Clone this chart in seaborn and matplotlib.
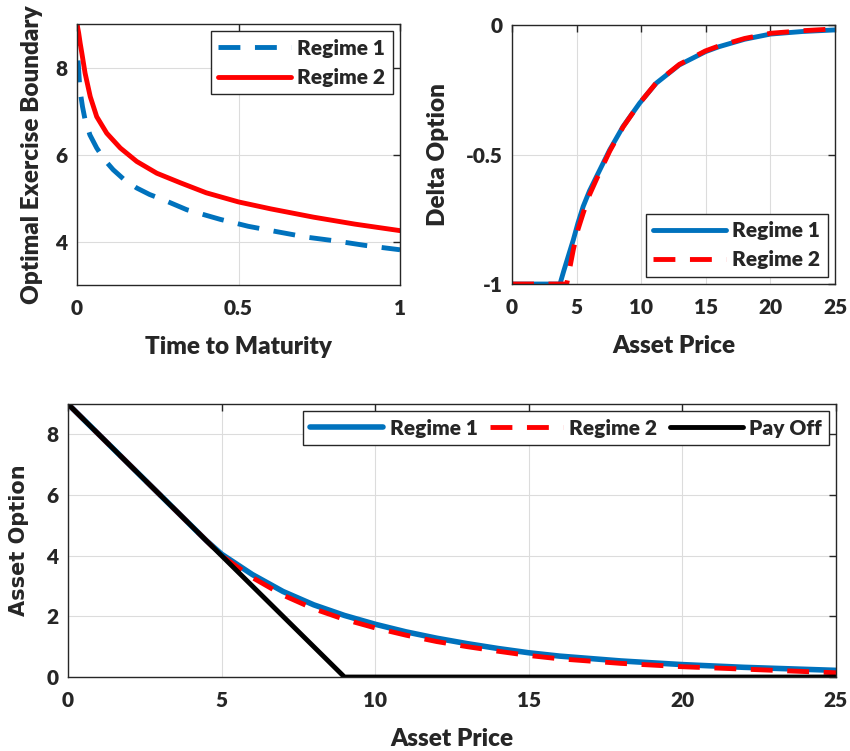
import numpy as np
import pandas as pd
import matplotlib
matplotlib.use("Agg")
import matplotlib.pyplot as plt
import seaborn as sns

# ---- optimal exercise boundary vs time to maturity ----
time_r1 = [0.0, 0.003, 0.009, 0.017, 0.025, 0.04, 0.061, 0.085, 0.112, 0.145, 0.185, 0.225, 0.267,
           0.34, 0.443, 0.53, 0.623, 0.711, 0.804, 0.892, 1.0]
boundary_r1 = [9.0, 8.2, 7.49, 7.1, 6.8, 6.45, 6.15, 5.88, 5.65, 5.43, 5.23, 5.08, 4.96,
               4.73, 4.51, 4.35, 4.22, 4.10, 4.01, 3.91, 3.81]
time_r2 = [0.0, 0.005, 0.01, 0.015, 0.025, 0.041, 0.061, 0.092, 0.134, 0.185, 0.247, 0.32, 0.4,
           0.5, 0.6, 0.732, 0.86, 1.0]
boundary_r2 = [9.0, 8.8, 8.55, 8.33, 7.87, 7.33, 6.87, 6.49, 6.15, 5.84, 5.57, 5.35, 5.12,
               4.91, 4.75, 4.56, 4.40, 4.25]

# ---- delta of the option vs asset price ----
price_d1 = [0, 3.71, 4.0, 4.4, 4.74, 5.1, 5.51, 6.0, 6.54, 7.56, 8.59, 9.87, 11.15, 12.95, 14.97,
            16.0, 18.0, 20.0, 22.5, 25]
delta_r1 = [-1, -1, -0.95, -0.885, -0.83, -0.765, -0.70, -0.64, -0.585, -0.482, -0.392, -0.302,
            -0.225, -0.154, -0.103, -0.084, -0.055, -0.035, -0.025, -0.019]
price_d2 = [0, 4.23, 4.74, 5.1, 5.51, 6.0, 6.54, 7.56, 8.59, 9.87, 11.15, 12.95, 14.97, 16.0, 18.0,
            20.0, 22.5, 25]
delta_r2 = [-1, -1, -0.868, -0.79, -0.726, -0.655, -0.595, -0.487, -0.394, -0.302, -0.224, -0.152,
            -0.100, -0.081, -0.052, -0.032, -0.022, -0.015]

# ---- option value vs asset price ----
price_v = [0, 4.5, 5, 6, 7, 8, 9, 10, 11, 12, 13, 14, 15, 16, 18, 20, 22, 25]
value_r1 = [9, 4.5, 4.05, 3.38, 2.82, 2.38, 2.03, 1.74, 1.49, 1.28, 1.1, 0.94, 0.8, 0.69, 0.53, 0.41, 0.32, 0.22]
value_r2 = [9, 4.5, 4.0, 3.28, 2.7, 2.25, 1.9, 1.62, 1.38, 1.17, 1.0, 0.85, 0.71, 0.6, 0.45, 0.34, 0.26, 0.14]
payoff_price = [0, 9, 25]
payoff_value = [9, 0, 0]

BLUE = '#0072BD'
RED = '#FF0000'
DARK = '#262626'

sns.set_style("white")
plt.rcParams['font.family'] = ['Lato', 'DejaVu Sans']
plt.rcParams['font.weight'] = 'heavy'
plt.rcParams['axes.labelweight'] = 'heavy'
plt.rcParams['axes.edgecolor'] = DARK
plt.rcParams['axes.linewidth'] = 1.0


def fmt_num(v):
    if float(v).is_integer():
        return str(int(v))
    return str(v)


def style_axes(ax, xlim, ylim, xticks, yticks, xlabel, ylabel):
    ax.set_xlim(*xlim)
    ax.set_ylim(*ylim)
    ax.set_xticks(xticks)
    ax.set_yticks(yticks)
    ax.set_xticklabels([fmt_num(v) for v in xticks])
    ax.set_yticklabels([fmt_num(v) for v in yticks])
    ax.grid(True, color='#dcdcdc', linewidth=0.8)
    ax.set_axisbelow(True)
    ax.tick_params(direction='in', top=True, right=True, length=5, width=1,
                   labelsize=15, colors=DARK, labelcolor=DARK)
    ax.tick_params(axis='x', pad=10)
    ax.tick_params(axis='y', pad=7)
    ax.set_xlabel(xlabel, fontsize=17.5, labelpad=13, color=DARK)
    ax.set_ylabel(ylabel, fontsize=17.5, labelpad=12, color=DARK)
    for s in ax.spines.values():
        s.set_visible(True)
        s.set_color(DARK)


def boxed_legend(ax, **kw):
    leg = ax.legend(fontsize=15, frameon=True, fancybox=False, edgecolor=DARK, framealpha=1,
                    handlelength=3.5, handletextpad=0.3, borderaxespad=0.35, borderpad=0.35, **kw)
    leg.get_frame().set_linewidth(1)
    return leg


fig = plt.figure(figsize=(8.5, 7.51), dpi=100)

# top left
ax1 = fig.add_axes([0.0906, 0.6205, 0.38, 0.3475])
df1 = pd.DataFrame({'t': time_r1, 'b': boundary_r1})
df2 = pd.DataFrame({'t': time_r2, 'b': boundary_r2})
sns.lineplot(data=df1, x='t', y='b', ax=ax1, color=BLUE, lw=3.5, linestyle='--', label='Regime 1')
ax1.lines[-1].set_dashes((4.5, 3))
sns.lineplot(data=df2, x='t', y='b', ax=ax1, color=RED, lw=3.5, label='Regime 2')
style_axes(ax1, (0, 1), (3, 9), [0, 0.5, 1], [4, 6, 8],
           'Time to Maturity', 'Optimal Exercise Boundary')
ax1.set_ylabel('Optimal Exercise Boundary', fontsize=17.5, labelpad=9, color=DARK)
boxed_legend(ax1, loc='upper right')

# top right
ax2 = fig.add_axes([0.6024, 0.6218, 0.38, 0.3449])
dd1 = pd.DataFrame({'s': price_d1, 'd': delta_r1})
dd2 = pd.DataFrame({'s': price_d2, 'd': delta_r2})
sns.lineplot(data=dd1, x='s', y='d', ax=ax2, color=BLUE, lw=3.5, label='Regime 1')
sns.lineplot(data=dd2, x='s', y='d', ax=ax2, color=RED, lw=3.5, linestyle='--', label='Regime 2')
ax2.lines[-1].set_dashes((4.5, 3))
style_axes(ax2, (0, 25), (-1, 0), [0, 5, 10, 15, 20, 25], [-1, -0.5, 0],
           'Asset Price', 'Delta Option')
boxed_legend(ax2, loc='lower right')

# bottom
ax3 = fig.add_axes([0.08, 0.0985, 0.9035, 0.3635])
dv1 = pd.DataFrame({'s': price_v, 'v': value_r1})
dv2 = pd.DataFrame({'s': price_v, 'v': value_r2})
dp = pd.DataFrame({'s': payoff_price, 'v': payoff_value})
sns.lineplot(data=dv1, x='s', y='v', ax=ax3, color=BLUE, lw=4, label='Regime 1')
sns.lineplot(data=dv2, x='s', y='v', ax=ax3, color=RED, lw=3.5, linestyle='--', label='Regime 2')
ax3.lines[-1].set_dashes((4.5, 3))
sns.lineplot(data=dp, x='s', y='v', ax=ax3, color='black', lw=3.5, label='Pay Off')
style_axes(ax3, (0, 25), (0, 9), [0, 5, 10, 15, 20, 25], [0, 2, 4, 6, 8],
           'Asset Price', 'Asset Option')
ax3.set_ylabel('Asset Option', fontsize=15, labelpad=12, color=DARK,
               family=['DejaVu Sans'], fontweight='bold')
boxed_legend(ax3, loc='upper right', ncol=3, columnspacing=0.6)

fig.savefig('out.png', dpi=100)
